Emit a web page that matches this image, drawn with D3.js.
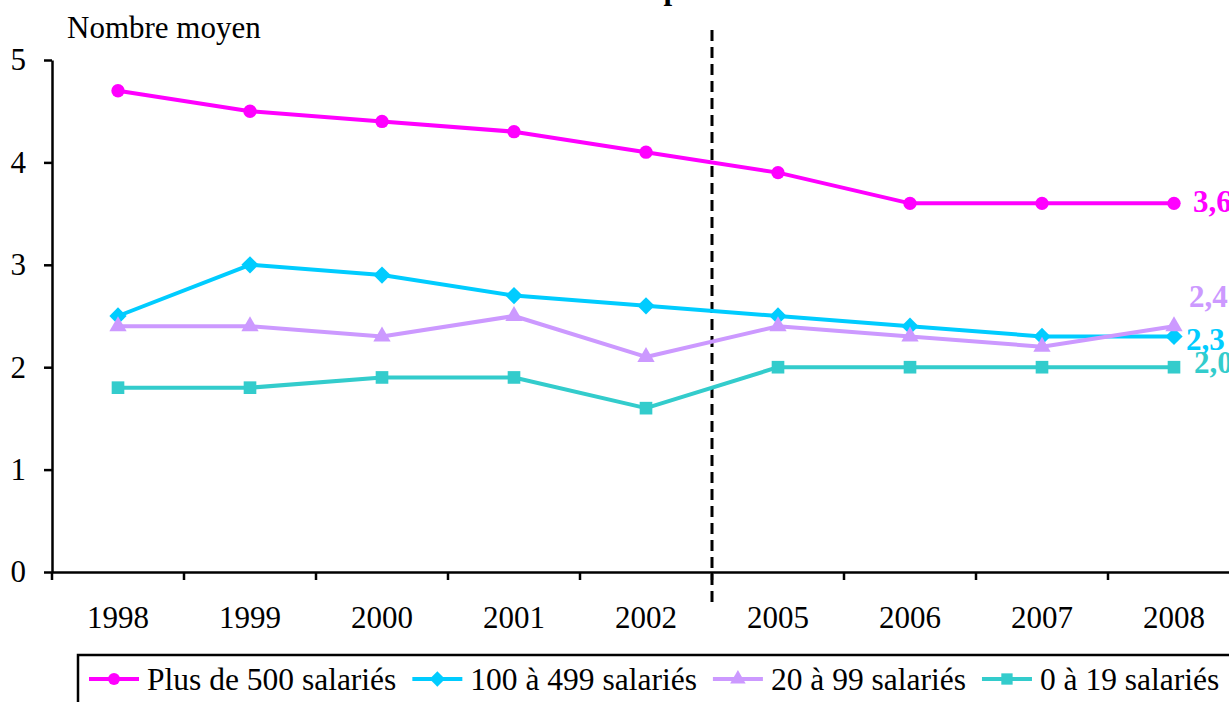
<!DOCTYPE html>
<html>
<head>
<meta charset="utf-8">
<script src="https://cdn.jsdelivr.net/npm/d3@7"></script>
<style>
  html, body { margin: 0; padding: 0; background: #fff; overflow: hidden; }
  svg { display: block; font-family: "Liberation Serif", "Times New Roman", serif; }
</style>
</head>
<body>
<div id="chart"></div>
<script>
const years = ["1998", "1999", "2000", "2001", "2002", "2005", "2006", "2007", "2008"];
const plus500 = [4.7, 4.5, 4.4, 4.3, 4.1, 3.9, 3.6, 3.6, 3.6];
const s100_499 = [2.5, 3.0, 2.9, 2.7, 2.6, 2.5, 2.4, 2.3, 2.3];
const s20_99 = [2.4, 2.4, 2.3, 2.5, 2.1, 2.4, 2.3, 2.2, 2.4];
const s0_19 = [1.8, 1.8, 1.9, 1.9, 1.6, 2.0, 2.0, 2.0, 2.0];
const seriesNames = ["Plus de 500 salariés", "100 à 499 salariés", "20 à 99 salariés", "0 à 19 salariés"];
const yTicks = [0, 1, 2, 3, 4, 5];
const breakAfter = "2002"; // dashed separator between 2002 and 2005

const W = 1229, H = 702;
const series = [
  { name: seriesNames[0], values: plus500, color: "#ff00ff", shape: d3.symbolCircle, size: 140, labelDx: 19, labelDy: 9 },
  { name: seriesNames[1], values: s100_499, color: "#00ccff", shape: d3.symbolDiamond2, size: 190, labelDx: 12, labelDy: 14 },
  { name: seriesNames[2], values: s20_99, color: "#cc99ff", shape: d3.symbolTriangle, size: 130, labelDx: 15, labelDy: -19 },
  { name: seriesNames[3], values: s0_19, color: "#33cccc", shape: d3.symbolSquare, size: 160, labelDx: 20, labelDy: 6 },
];

const svg = d3.select("#chart").append("svg")
  .attr("width", W).attr("height", H);

const x = d3.scaleBand().domain(years).range([52, 52 + 132 * years.length]).padding(0);
const y = d3.scaleLinear().domain([0, 5]).range([572, 60]);
const cx = (d) => x(d) + x.bandwidth() / 2;

// partially visible bold title (cut off at top of picture)
svg.append("text").attr("x", 672).attr("y", -1).attr("text-anchor", "middle")
  .attr("font-weight", "bold").attr("font-size", 31).text("p");

// y axis
const gy = svg.append("g").attr("transform", "translate(52,0)")
  .call(d3.axisLeft(y).tickValues(yTicks).tickSize(8).tickSizeOuter(0).tickPadding(18).tickFormat(d3.format("d")));
gy.selectAll("text").attr("font-size", 31).attr("font-family", "Liberation Serif").attr("fill", "#000");
gy.selectAll("line, path").attr("stroke", "#000").attr("stroke-width", 2.5);

svg.append("text").attr("x", 67).attr("y", 38).attr("font-size", 31).text("Nombre moyen");

// x axis: category labels centered, ticks between categories
const gx = svg.append("g").attr("transform", `translate(0,${y(0)})`)
  .call(d3.axisBottom(x).tickSize(0).tickPadding(0).tickSizeOuter(0));
gx.select("path").attr("stroke", "#000").attr("stroke-width", 2.5);
gx.selectAll("text").attr("font-size", 31).attr("font-family", "Liberation Serif")
  .attr("fill", "#000").attr("dy", null).attr("y", 56);
gx.selectAll(".tick-between").data(years.concat([null])).join("line")
  .attr("class", "tick-between")
  .attr("x1", (d, i) => x.range()[0] + i * x.step()).attr("x2", (d, i) => x.range()[0] + i * x.step())
  .attr("y1", 0).attr("y2", 8).attr("stroke", "#000").attr("stroke-width", 2.5);

// dashed separator
const xb = x(breakAfter) + x.bandwidth();
svg.append("line").attr("x1", xb).attr("x2", xb).attr("y1", 30).attr("y2", 604)
  .attr("stroke", "#000").attr("stroke-width", 3).attr("stroke-dasharray", "11,6");

// lines and markers
const line = d3.line().x((d, i) => cx(years[i])).y((d) => y(d));
const gs = svg.selectAll(".series").data(series).join("g").attr("class", "series");
gs.append("path").attr("d", (s) => line(s.values)).attr("fill", "none")
  .attr("stroke", (s) => s.color).attr("stroke-width", 4).attr("stroke-linejoin", "round");
gs.each(function (s) {
  d3.select(this).selectAll("path.m").data(s.values).join("path").attr("class", "m")
    .attr("d", d3.symbol(s.shape, s.size))
    .attr("transform", (d, i) => `translate(${cx(years[i])},${y(d)})`)
    .attr("fill", s.color);
});
// end labels
const fmt = (v) => v.toFixed(1).replace(".", ",");
gs.append("text")
  .attr("x", (s) => cx(years[years.length - 1]) + s.labelDx)
  .attr("y", (s) => y(s.values[s.values.length - 1]) + s.labelDy)
  .attr("font-size", 31).attr("font-weight", "bold").attr("fill", (s) => s.color)
  .text((s) => fmt(s.values[s.values.length - 1]));

// legend
const lg = svg.append("g");
lg.append("rect").attr("x", 78).attr("y", 655).attr("width", W).attr("height", 80)
  .attr("fill", "#fff").attr("stroke", "#000").attr("stroke-width", 2.5);
let lx = 89;
series.forEach((s) => {
  const it = lg.append("g").attr("transform", `translate(${lx},679)`);
  it.append("line").attr("x1", 0).attr("x2", 50).attr("stroke", s.color).attr("stroke-width", 4);
  it.append("path").attr("d", d3.symbol(s.shape, s.size * 0.8)).attr("transform", "translate(25,0)").attr("fill", s.color);
  const t = it.append("text").attr("x", 58).attr("y", 11).attr("font-size", 31.5).text(s.name);
  lx += 58 + t.node().getComputedTextLength() + 16;
});
</script>
</body>
</html>
